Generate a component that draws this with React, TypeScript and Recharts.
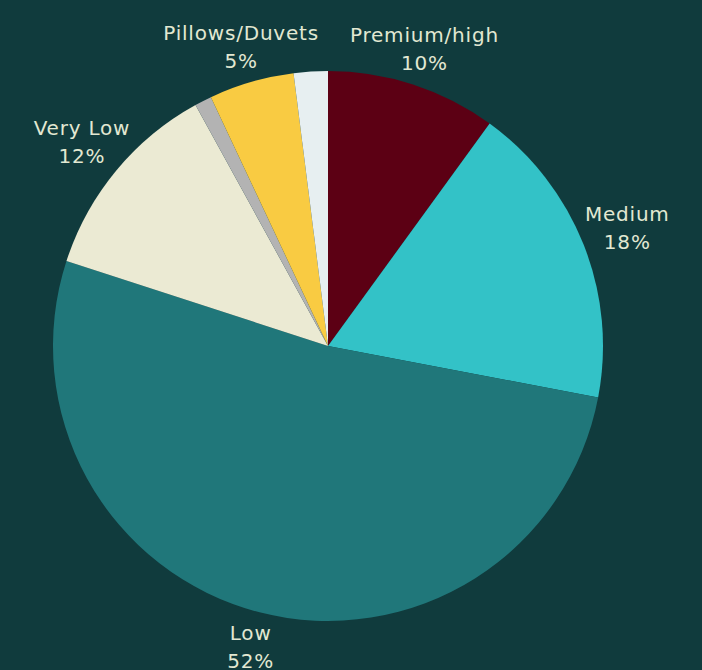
import { Cell, Pie, PieChart } from "recharts";

const segmentNames = [
  "Premium/high",
  "Medium",
  "Low",
  "Very Low",
  "Other",
  "Pillows/Duvets",
  "Unspecified",
];
const segmentValues = [10, 18, 52, 12, 1, 5, 2];
const segmentColors = [
  "#5C0014",
  "#33C2C7",
  "#20777A",
  "#EBEAD3",
  "#B3B3B3",
  "#F9CB42",
  "#E7EFF1",
];
const labelledSegments = ["Premium/high", "Medium", "Low", "Very Low", "Pillows/Duvets"];

const data = segmentNames.map((name, i) => ({
  name,
  value: segmentValues[i],
}));

const RAD = Math.PI / 180;

function SliceLabel(props: any) {
  const { cx, cy, midAngle, outerRadius, name, value } = props;
  if (!labelledSegments.includes(name)) return null;
  const s = Math.abs(Math.cos(-midAngle * RAD));
  const r = outerRadius + 32 + 16 * s;
  const x = cx + r * Math.cos(-midAngle * RAD);
  const y = cy + r * Math.sin(-midAngle * RAD);
  return (
    <text
      x={x}
      y={y}
      textAnchor="middle"
      dominantBaseline="central"
      fill="#E2E8D2"
      fontSize={20}
      letterSpacing={0.8}
      fontFamily="DejaVu Sans, sans-serif"
    >
      <tspan x={x} dy={-14}>
        {name}
      </tspan>
      <tspan x={x} dy={28}>
        {value}%
      </tspan>
    </text>
  );
}

export default function App() {
  return (
    <div
      style={{
        position: "absolute",
        left: 0,
        top: 0,
        width: 702,
        height: 670,
        background: "#103B3D",
        overflow: "hidden",
      }}
    >
      <PieChart width={702} height={670} margin={{ top: 0, right: 0, bottom: 0, left: 0 }}>
        <Pie
          data={data}
          dataKey="value"
          nameKey="name"
          cx={328}
          cy={346}
          outerRadius={275}
          startAngle={90}
          endAngle={-270}
          stroke="none"
          labelLine={false}
          label={SliceLabel}
          isAnimationActive={false}
        >
          {data.map((entry, i) => (
            <Cell key={entry.name} fill={segmentColors[i]} />
          ))}
        </Pie>
      </PieChart>
    </div>
  );
}
